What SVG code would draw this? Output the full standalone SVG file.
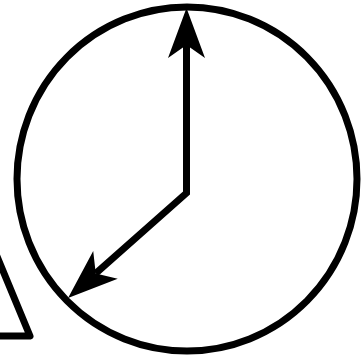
<svg xmlns="http://www.w3.org/2000/svg" width="362" height="364" viewBox="0 0 362 364">
<style>
.s{fill:none;stroke:#000;stroke-width:7}
</style>
<defs>
<marker id="ah" markerUnits="userSpaceOnUse" markerWidth="80" markerHeight="60" refX="0" refY="0" viewBox="-20 -30 80 60" orient="auto-start-reverse" overflow="visible">
<path d="M37,0 L-13,-18.5 L0,0 L-13,18.5 Z" fill="#000"/>
</marker>
</defs>
<g id="clock">
<ellipse class="s" cx="187" cy="179" rx="170" ry="172"/>
</g>
<g id="triangle">
<path class="s" d="M-4,254 L30,336 L-5,336" stroke-width="6" stroke-linejoin="round"/>
</g>
<g id="connectors">
<path class="s" d="M186.5,45 L186.5,193 L95.75,273.4" marker-start="url(#ah)" marker-end="url(#ah)"/>
</g>
</svg>
